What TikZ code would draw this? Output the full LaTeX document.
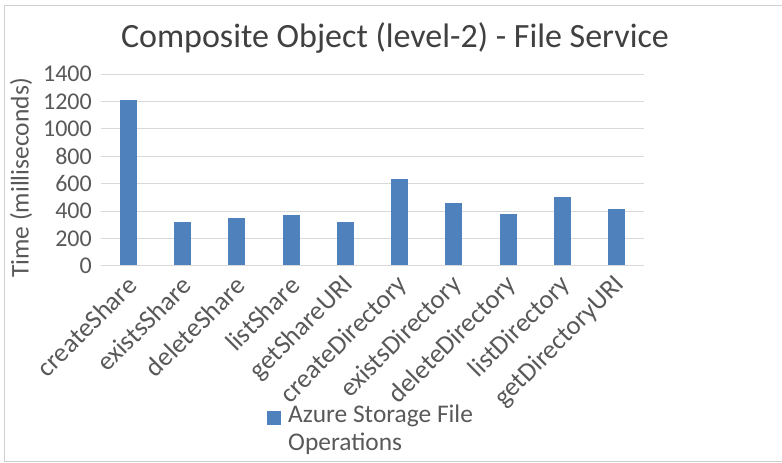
\documentclass[tikz,border=0pt]{standalone}
\usepackage{fontspec}
\setmainfont{Carlito}
\definecolor{barblue}{HTML}{4F81BD}
\definecolor{gridgray}{HTML}{D9D9D9}
\definecolor{txt}{HTML}{595959}
\definecolor{ttl}{HTML}{404040}
\definecolor{frame}{HTML}{D0D0D0}
\begin{document}
\begin{tikzpicture}[x=1pt,y=-1pt,
  bar/.style={fill=barblue,draw=none},
  gridline/.style={draw=gridgray,line width=1pt},
  ticklab/.style={anchor=east,font=\fontsize{24}{24}\selectfont,text=txt,inner sep=0pt},
  catlab/.style={anchor=east,rotate=45,font=\fontsize{26.5}{26.5}\selectfont,text=txt,inner sep=0pt},
  ]
\useasboundingbox (0,0) rectangle (782,463);
\fill[white] (0,0) rectangle (782,463);
\draw[frame,line width=1.2pt] (790,5.5) -- (4.5,5.5) -- (4.5,461.5) -- (790,461.5);
% title
\node[font=\fontsize{34}{34}\selectfont,text=ttl,inner sep=0pt] (title) at (395,38) {Composite Object (level-2) - File Service};
% grid
\foreach \v [count=\i from 0] in {0,200,400,600,800,1000,1200,1400}{
  \pgfmathsetmacro{\yy}{265.7-\v*0.13675}
  \draw[gridline] (101,\yy) -- (644,\yy);
  \node[ticklab] (t\i) at (92,\yy) {\v};
}
% axis title
\node[rotate=90,font=\fontsize{25.5}{25.5}\selectfont,text=txt,inner sep=0pt] (ytitle) at (21,178) {Time (milliseconds)};
% bars
\foreach \val/\name [count=\i from 0] in {1210/createShare,317/existsShare,347/deleteShare,371/listShare,317/getShareURI,634/createDirectory,461/existsDirectory,378/deleteDirectory,500/listDirectory,415/getDirectoryURI}{
  \pgfmathsetmacro{\xc}{101+54.3*(\i+0.5)}
  \pgfmathsetmacro{\yt}{265.7-\val*0.13675}
  \fill[bar] (\xc-8.5,265.2) rectangle (\xc+8.5,\yt);
  \node[catlab] (c\i) at (\xc+4,281) {\name};
}
% legend
\fill[barblue] (267,411) rectangle (281,425) coordinate (lkey);
\node[anchor=north west,align=left,font=\fontsize{25.4}{27.5}\selectfont,text=txt,inner sep=0pt] (leg) at (288,405) {Azure Storage File\\Operations};
\end{tikzpicture}
\end{document}
